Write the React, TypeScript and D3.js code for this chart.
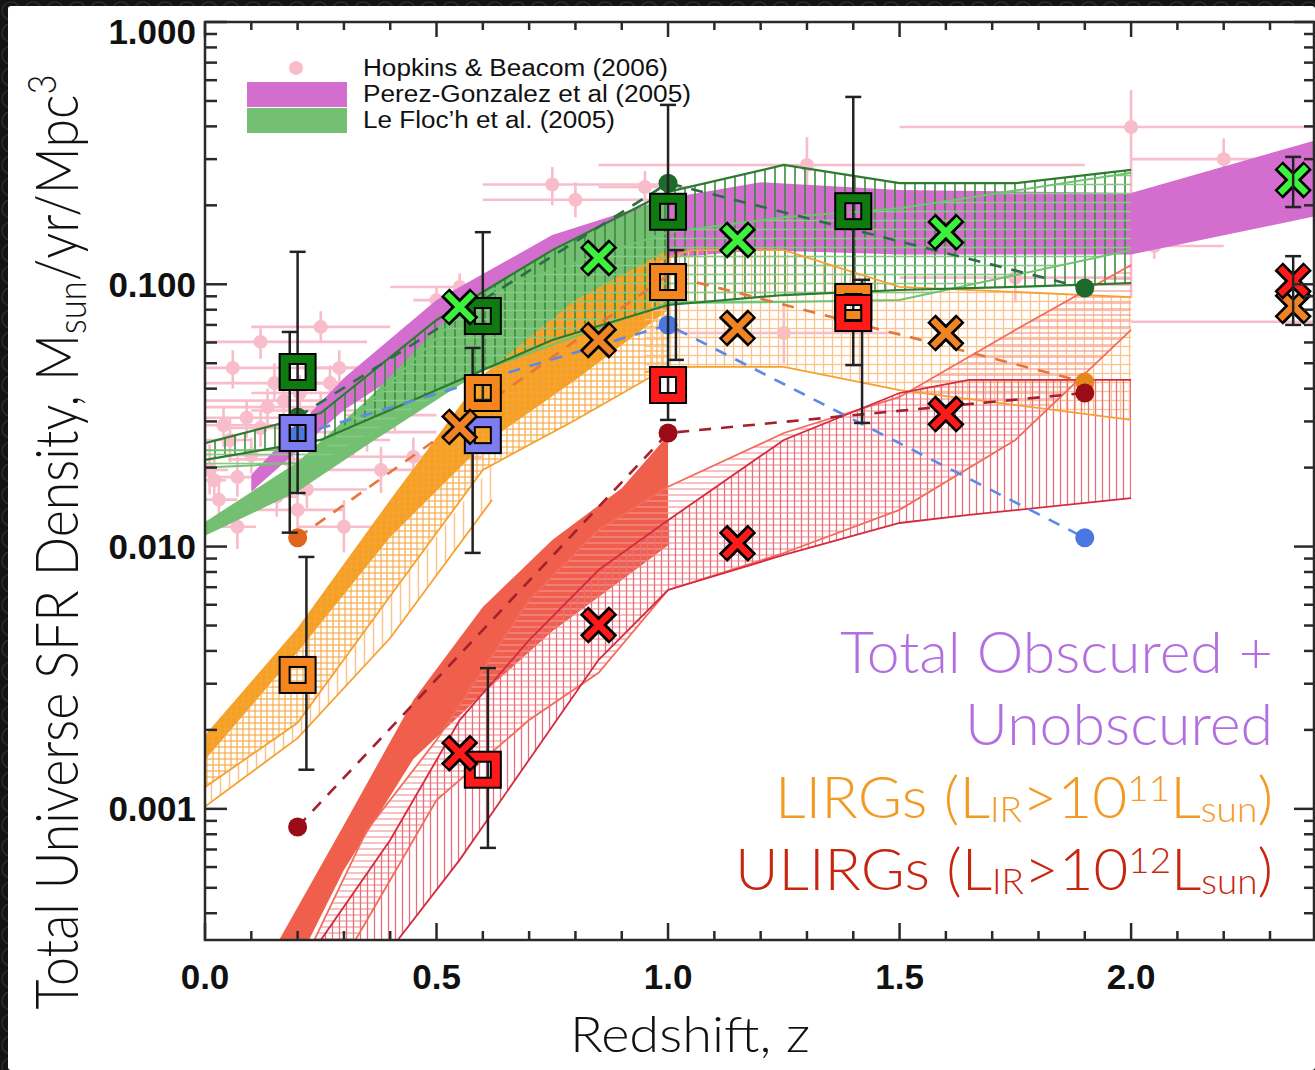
import * as d3 from "d3";

const W = 1315;
const H = 1070;
const M = { left: 205, right: 1314, top: 22, bottom: 940 };

// Hopkins & Beacom (2006) compilation
const hbZ = [0.01, 0.02, 0.03, 0.07, 0.07, 0.12, 0.135, 0.15, 0.155, 0.2, 0.205, 0.27, 0.29, 0.3, 0.35, 0.38, 0.32, 0.054, 0.1, 0.17, 0.41, 0.55, 0.5, 0.8, 0.95, 1.3, 1.25, 1.75, 2.0, 2.2, 2.05, 2.45, 0.12, 0.25, 0.06, 0.09, 0.25, 0.18, 0.45, 0.75, 0.04, 0.22];
const hbV = [0.0196, 0.0179, 0.0151, 0.0119, 0.0184, 0.0283, 0.034, 0.042, 0.0155, 0.0138, 0.0385, 0.042, 0.048, 0.0119, 0.0273, 0.0196, 0.0255, 0.0255, 0.0223, 0.036, 0.0317, 0.0977, 0.087, 0.21, 0.235, 0.285, 0.0652, 0.106, 0.398, 0.3, 0.14, 0.072, 0.0603, 0.0688, 0.048, 0.031, 0.033, 0.0215, 0.022, 0.24, 0.029, 0.0165];
const hbZlo = [0, 0, 0, 0.03, 0.02, 0.05, 0, 0, 0.1, 0.1, 0.1, 0.2, 0.2, 0.2, 0.2, 0.25, 0.25, 0, 0.05, 0, 0.3, 0.4, 0.45, 0.6, 0.85, 0.85, 1.0, 1.5, 1.5, 2.0, 1.93, 2.0, 0, 0.1, 0, 0, 0.1, 0.05, 0.3, 0.6, 0, 0.1];
const hbZhi = [0.05, 0.045, 0.07, 0.11, 0.12, 0.2, 0.3, 0.3, 0.2, 0.3, 0.3, 0.35, 0.4, 0.4, 0.5, 0.5, 0.4, 0.1, 0.15, 0.45, 0.5, 0.7, 0.6, 1.0, 1.05, 1.9, 1.5, 2.0, 2.6, 2.6, 2.2, 2.6, 0.35, 0.4, 0.38, 0.25, 0.45, 0.3, 0.6, 1.0, 0.2, 0.35];
const hbVlo = [0.0158, 0.0145, 0.0125, 0.0098, 0.0155, 0.024, 0.029, 0.036, 0.013, 0.0115, 0.033, 0.036, 0.041, 0.0095, 0.023, 0.016, 0.022, 0.021, 0.019, 0.031, 0.027, 0.085, 0.077, 0.18, 0.2, 0.21, 0.05, 0.085, 0.089, 0.27, 0.125, 0.06, 0.052, 0.06, 0.04, 0.026, 0.028, 0.018, 0.018, 0.2, 0.024, 0.014];
const hbVhi = [0.0245, 0.022, 0.018, 0.0145, 0.022, 0.033, 0.04, 0.05, 0.0185, 0.0165, 0.045, 0.049, 0.056, 0.015, 0.032, 0.024, 0.03, 0.031, 0.026, 0.042, 0.037, 0.11, 0.098, 0.245, 0.27, 0.364, 0.085, 0.135, 0.55, 0.36, 0.16, 0.085, 0.068, 0.079, 0.056, 0.036, 0.039, 0.025, 0.026, 0.28, 0.034, 0.019];

// Perez-Gonzalez et al (2005)
const pgZ = [0.1, 0.3, 0.5, 0.75, 1.0, 1.2, 1.5, 2.0, 2.4];
const pgHi = [0.0188, 0.0439, 0.0871, 0.154, 0.213, 0.245, 0.229, 0.223, 0.355];
const pgLo = [0.0162, 0.0332, 0.0562, 0.0951, 0.126, 0.135, 0.13, 0.13, 0.182];

// Le Floc'h et al (2005) filled
const lfZ = [0, 0.2, 0.35, 0.55, 0.75, 1.0];
const lfHi = [0.0124, 0.021, 0.0362, 0.0834, 0.135, 0.219];
const lfLo = [0.011, 0.0162, 0.0244, 0.0413, 0.067, 0.129];

// total, vertical hatch
const dgZ = [0, 0.25, 0.5, 0.75, 1.0, 1.25, 1.5, 1.75, 2.0];
const dgHi = [0.0248, 0.0323, 0.0731, 0.135, 0.225, 0.285, 0.243, 0.243, 0.273];
const dgLo = [0.0214, 0.0255, 0.0395, 0.0613, 0.0834, 0.091, 0.0951, 0.0977, 0.101];

// total, horizontal hatch
const lgZ = [0, 0.25, 0.6, 1.0, 1.25, 1.5, 2.0];
const lgHi = [0.0233, 0.0233, 0.0926, 0.158, 0.18, 0.195, 0.266];
const lgLo = [0.02, 0.021, 0.0471, 0.0849, 0.0856, 0.0871, 0.135];

// LIRGs
const ofZ = [0, 0.2, 0.4, 0.6, 0.8, 1.0];
const ofHi = [0.00191, 0.00489, 0.01506, 0.0451, 0.0871, 0.135];
const ofLo = [0.00154, 0.00396, 0.01088, 0.0244, 0.0432, 0.0798];
const ocLo = [0.00121, 0.00213, 0.00648, 0.0196, 0.0304, 0.0484];
const ovZ = [0, 0.2, 0.4, 0.62];
const ovHi = [0.00121, 0.00213, 0.00648, 0.0205];
const ovLo = [0.00102, 0.00186, 0.00448, 0.01506];
const orZ = [0.95, 1.05, 1.25, 1.5, 2.0];
const orHi = [0.1185, 0.135, 0.135, 0.0977, 0.0894];
const orLo = [0.0463, 0.0484, 0.0484, 0.0395, 0.0304];

// ULIRGs
const rfZ = [0.16, 0.3, 0.45, 0.6, 0.75, 0.9, 1.0];
const rfHi = [0.000316, 0.000868, 0.0026, 0.00588, 0.0106, 0.0167, 0.0266];
const rfLo = [0.000187, 0.000585, 0.00155, 0.00275, 0.00475, 0.00746, 0.0101];
const rhZ = [0.2, 0.35, 0.5, 0.7, 0.85, 1.0, 1.25, 1.5, 1.75, 2.0];
const rhHi = [0.000233, 0.000831, 0.00183, 0.00626, 0.0116, 0.0169, 0.0271, 0.0372, 0.067, 0.1185];
const rhLo = [0.000132, 0.000377, 0.00108, 0.00218, 0.0033, 0.00683, 0.00945, 0.0138, 0.0255, 0.067];
const rvZ = [0.25, 0.4, 0.55, 0.7, 0.85, 1.0, 1.25, 1.5, 1.65, 2.0];
const rvHi = [0.000316, 0.000761, 0.00218, 0.0044, 0.00814, 0.0126, 0.0255, 0.0385, 0.0432, 0.0432];
const rvLo = [0.00011, 0.00029, 0.000639, 0.00154, 0.0037, 0.00683, 0.00929, 0.0123, 0.0132, 0.0153];

// dashed models
const dashZ = [0.2, 1.0, 1.9];
const dashTotal = [0.0312, 0.243, 0.0968];
const dashBlue = [0.0266, 0.07, 0.0108];
const dashLirg = [0.0108, 0.1085, 0.0424];
const dashUlirg = [0.000853, 0.0271, 0.0385];

// square points
const sqZ = [0.2, 0.6, 1.0, 1.4];
const sqTotal = [0.0463, 0.0757, 0.189, 0.19];
const sqLirg = [0.00324, 0.0385, 0.102, 0.0856];
const sqBlue = [0.0271, 0.0266, null, null];
const sqUlirg = [null, 0.00141, 0.0413, 0.0777];

// error bars on squares
const ebZ = [0.2, 0.183, 0.219, 0.6, 0.578, 0.611, 1.0, 1.017, 1.4, 1.419];
const ebLo = [0.016, 0.0113, 0.00141, 0.0362, 0.00946, 0.00071, 0.0304, 0.0515, 0.0492, 0.0296];
const ebHi = [0.133, 0.0658, 0.00913, 0.158, 0.0572, 0.00344, 0.483, 0.135, 0.518, 0.104];

// cross points
const xZ = [0.55, 0.85, 1.15, 1.6, 2.35];
const xTotal = [0.0819, 0.126, 0.1475, 0.158, 0.25];
const xLirg = [0.0286, 0.0613, 0.0681, 0.0652, 0.0827];
const xUlirg = [0.00163, 0.00502, 0.0103, 0.032, 0.103];
const xebZ = [2.35, 2.35];
const xebLo = [0.197, 0.07];
const xebHi = [0.306, 0.128];

const yLabels = [0.001, 0.01, 0.1, 1];
const xLabels = [0, 0.5, 1.0, 1.5, 2.0];
const legendLabels = ["Hopkins & Beacom (2006)", "Perez-Gonzalez et al (2005)", "Le Floc’h et al. (2005)"];

const x = d3.scaleLinear().domain([0, 2.395]).range([M.left, M.right]);
const y = d3.scaleLog().domain([Math.pow(10, -3.5), 1]).range([M.bottom, M.top]);

function bandPath(zs: number[], hi: number[], lo: number[]) {
  return d3.area<number>().x((d) => x(d)).y0((_, i) => y(lo[i])).y1((_, i) => y(hi[i]))(zs) ?? "";
}
function linePath(zs: number[], vs: number[]) {
  return d3.line<number>().x((d) => x(d)).y((_, i) => y(vs[i]))(zs) ?? "";
}

function Hatch({ id, color, size, dir, w }: { id: string; color: string; size: number; dir: string; w: number }) {
  return (
    <pattern id={id} width={size} height={size} patternUnits="userSpaceOnUse">
      {dir !== "h" ? <line x1={size / 2} y1={0} x2={size / 2} y2={size} stroke={color} strokeWidth={w} /> : null}
      {dir !== "v" ? <line x1={0} y1={size / 2} x2={size} y2={size / 2} stroke={color} strokeWidth={w} /> : null}
    </pattern>
  );
}

function Square({ z, v, color }: { z: number; v: number | null; color: string }) {
  if (v == null) return null;
  const cx = x(z);
  const cy = y(v);
  return (
    <g>
      <rect x={cx - 13} y={cy - 13} width={26} height={26} fill="none" stroke="#000" strokeWidth={12} />
      <rect x={cx - 13} y={cy - 13} width={26} height={26} fill="none" stroke={color} strokeWidth={8} />
    </g>
  );
}

function Cross({ z, v, color }: { z: number; v: number; color: string }) {
  const cx = x(z);
  const cy = y(v);
  const a = 14.5;
  const b = 13;
  return (
    <g>
      <path d={`M${cx - a},${cy - a}L${cx + a},${cy + a}M${cx - a},${cy + a}L${cx + a},${cy - a}`} stroke="#000" strokeWidth={12} />
      <path d={`M${cx - b},${cy - b}L${cx + b},${cy + b}M${cx - b},${cy + b}L${cx + b},${cy - b}`} stroke={color} strokeWidth={6.5} />
    </g>
  );
}

function ErrBar({ z, lo, hi }: { z: number; lo: number; hi: number }) {
  const cx = x(z);
  return (
    <g stroke="#222" strokeWidth={2.5}>
      <line x1={cx} x2={cx} y1={y(lo)} y2={y(hi)} />
      <line x1={cx - 8} x2={cx + 8} y1={y(lo)} y2={y(lo)} />
      <line x1={cx - 8} x2={cx + 8} y1={y(hi)} y2={y(hi)} />
    </g>
  );
}

export default function App() {
  const yTicks = y.ticks();
  const isMajorY = (t: number) => Math.abs(Math.log10(t) - Math.round(Math.log10(t))) < 1e-6;
  const xTicks = d3.range(0, 24).map((i) => i / 10);
  const isMajorX = (t: number) => Math.abs(t * 2 - Math.round(t * 2)) < 1e-6;
  const sans = "'Liberation Sans', Arial, Helvetica, sans-serif";
  const light = "Lato, 'Liberation Sans', Arial, sans-serif";
  const legendWidths = [305, 328, 252];

  const dashes = [
    { v: dashTotal, color: "#2a6e44", dot: "#1d6a2c", show: [true, true, true] },
    { v: dashBlue, color: "#5b8be6", dot: "#4a78e0", show: [true, true, true] },
    { v: dashLirg, color: "#e8763a", dot: "#e0641c", show: [true, false, true] },
    { v: dashUlirg, color: "#a3202c", dot: "#9a0c16", show: [true, true, true] },
  ];

  return (
    <svg width={W} height={H} style={{ position: "absolute", left: 0, top: 0, display: "block" }}>
      <defs>
        <pattern id="frame" width={22} height={22} patternUnits="userSpaceOnUse">
          <rect width={22} height={22} fill="#141414" />
          <circle cx={11} cy={11} r={9} fill="none" stroke="#2c2c2c" strokeWidth={1.5} />
        </pattern>
        <Hatch id="h-dg" color="#3b8b3b" size={10} dir="v" w={1.6} />
        <Hatch id="h-lg" color="#86cc86" size={9} dir="h" w={1.6} />
        <Hatch id="h-oc" color="#f6a43c" size={6} dir="vh" w={1.1} />
        <Hatch id="h-ov" color="#fbc48c" size={9} dir="v" w={1.5} />
        <Hatch id="h-or" color="#fbc48c" size={9} dir="vh" w={1.3} />
        <Hatch id="h-rh" color="#f39595" size={6} dir="h" w={1.2} />
        <Hatch id="h-rv" color="#e6707e" size={7} dir="v" w={1.3} />
        <clipPath id="plot-clip">
          <rect x={M.left} y={M.top} width={M.right - M.left} height={M.bottom - M.top} />
        </clipPath>
      </defs>

      <rect width={W} height={H} fill="url(#frame)" />
      <rect x={8} y={6} width={W - 8} height={H - 6} rx={3} fill="#fff" />

      <g clipPath="url(#plot-clip)">
        {/* Hopkins & Beacom points */}
        <g stroke="#f8bccb" strokeWidth={2.6} fill="#f8bccb">
          {hbZ.map((z, i) => (
            <g key={`hb-${i}`}>
              <line x1={x(hbZlo[i])} x2={x(hbZhi[i])} y1={y(hbV[i])} y2={y(hbV[i])} />
              <line x1={x(z)} x2={x(z)} y1={y(hbVlo[i])} y2={y(hbVhi[i])} />
              <circle cx={x(z)} cy={y(hbV[i])} r={7} stroke="none" />
            </g>
          ))}
        </g>

        {/* filled bands */}
        <path d={bandPath(pgZ, pgHi, pgLo)} fill="#d36ecf" />
        <path d={bandPath(lfZ, lfHi, lfLo)} fill="#74bf72" />
        <path d={bandPath(ofZ, ofHi, ofLo)} fill="#f6a021" />
        <path d={bandPath(rfZ, rfHi, rfLo)} fill="#ef5f4b" />

        {/* hatched bands */}
        <path d={bandPath(ofZ, ofHi, ocLo)} fill="url(#h-oc)" />
        <path d={bandPath(ovZ, ovHi, ovLo)} fill="url(#h-ov)" />
        <path d={bandPath(orZ, orHi, orLo)} fill="url(#h-or)" />
        <path d={bandPath(rhZ, rhHi, rhLo)} fill="url(#h-rh)" />
        <path d={bandPath(rvZ, rvHi, rvLo)} fill="url(#h-rv)" />
        <path d={bandPath(dgZ, dgHi, dgLo)} fill="url(#h-dg)" />
        <path d={bandPath(lgZ, lgHi, lgLo)} fill="url(#h-lg)" />

        {/* band edges */}
        <g fill="none" strokeWidth={1.8}>
          <path d={linePath(ofZ, ocLo)} stroke="#f7a030" />
          <path d={linePath(ovZ, ovLo)} stroke="#f7a030" />
          <path d={linePath(orZ, orHi)} stroke="#f7a030" />
          <path d={linePath(orZ, orLo)} stroke="#f7a030" />
          <path d={linePath(rhZ, rhHi)} stroke="#f36b5b" />
          <path d={linePath(rhZ, rhLo)} stroke="#f36b5b" />
          <path d={linePath(rvZ, rvHi)} stroke="#d42b40" />
          <path d={linePath(rvZ, rvLo)} stroke="#d42b40" />
          <path d={linePath(lgZ, lgHi)} stroke="#6fc46f" strokeWidth={2} />
          <path d={linePath(lgZ, lgLo)} stroke="#6fc46f" strokeWidth={2} />
          <path d={linePath(dgZ, dgHi)} stroke="#2c7c30" strokeWidth={2.2} />
          <path d={linePath(dgZ, dgLo)} stroke="#2c7c30" strokeWidth={2.2} />
        </g>

        {/* dashed model lines */}
        {dashes.map((s, k) => (
          <g key={`dash-${k}`}>
            <path d={linePath(dashZ, s.v)} fill="none" stroke={s.color} strokeWidth={2.6} strokeDasharray="12 10" />
            {dashZ.map((z, i) => (s.show[i] ? <circle key={i} cx={x(z)} cy={y(s.v[i])} r={9.5} fill={k === 2 && i === 2 ? "#e8861e" : s.dot} /> : null))}
          </g>
        ))}

        {ebZ.map((z, i) => (
          <ErrBar key={`eb-${i}`} z={z} lo={ebLo[i]} hi={ebHi[i]} />
        ))}

        {sqZ.map((z, i) => <Square key={`sg-${i}`} z={z} v={sqTotal[i]} color="#0e7a10" />)}
        {sqZ.map((z, i) => <Square key={`so-${i}`} z={z} v={sqLirg[i]} color="#f5861f" />)}
        {sqZ.map((z, i) => <Square key={`sb-${i}`} z={z} v={sqBlue[i]} color="#7d7cf0" />)}
        {sqZ.map((z, i) => <Square key={`sr-${i}`} z={z} v={sqUlirg[i]} color="#ff1a1a" />)}

        {xZ.map((z, i) => <Cross key={`xg-${i}`} z={z} v={xTotal[i]} color="#3cf03c" />)}
        {xZ.map((z, i) => <Cross key={`xo-${i}`} z={z} v={xLirg[i]} color="#f08424" />)}
        {xZ.map((z, i) => <Cross key={`xr-${i}`} z={z} v={xUlirg[i]} color="#ff1a1a" />)}
        {xebZ.map((z, i) => (
          <ErrBar key={`xeb-${i}`} z={z} lo={xebLo[i]} hi={xebHi[i]} />
        ))}
      </g>

      {/* axes */}
      <g stroke="#2a2a2a" strokeWidth={2.5} fill="none">
        <rect x={M.left} y={M.top} width={M.right - M.left} height={M.bottom - M.top} />
        {yTicks.map((t) => {
          const major = isMajorY(t);
          return (
            <g key={`yt-${t}`}>
              <line x1={M.left} x2={M.left + (major ? 22 : 12)} y1={y(t)} y2={y(t)} />
              <line x1={M.right} x2={M.right - (major ? 20 : 10)} y1={y(t)} y2={y(t)} />
            </g>
          );
        })}
        {xTicks.map((t) => {
          const major = isMajorX(t);
          return (
            <g key={`xt-${t}`}>
              <line x1={x(t)} x2={x(t)} y1={M.bottom} y2={M.bottom - (major ? 17 : 9)} />
              <line x1={x(t)} x2={x(t)} y1={M.top} y2={M.top + (major ? 15 : 8)} />
            </g>
          );
        })}
      </g>

      <g fontFamily={sans} fontWeight="bold" fontSize={35} fill="#111">
        {yLabels.map((t) => (
          <text key={`yl-${t}`} x={196} y={Math.max(y(t), 31)} textAnchor="end" dominantBaseline="central">
            {d3.format(".3f")(t)}
          </text>
        ))}
        {xLabels.map((t) => (
          <text key={`xl-${t}`} x={x(t)} y={989} textAnchor="middle">
            {d3.format(".1f")(t)}
          </text>
        ))}
      </g>

      <text x={690} y={1052} textAnchor="middle" fontFamily={light} fontWeight={300} fontSize={50} fill="#111" textLength={240} lengthAdjust="spacingAndGlyphs">
        Redshift, z
      </text>
      <text transform="translate(78,542) rotate(-90)" textAnchor="middle" fontFamily={light} fontWeight={300} fontSize={60} fill="#111" textLength={935} lengthAdjust="spacingAndGlyphs">
        Total Universe SFR Density, M<tspan fontSize={40} dy={8}>sun</tspan>
        <tspan dy={-8}>/yr/Mpc</tspan>
        <tspan fontSize={40} dy={-22}>3</tspan>
      </text>

      {/* legend */}
      <circle cx={296} cy={68} r={7} fill="#f8bccb" />
      <rect x={247} y={82} width={100} height={25} fill="#d36ecf" />
      <rect x={247} y={108} width={100} height={25} fill="#74bf72" />
      <g fontFamily={sans} fontSize={23} fill="#111">
        {legendLabels.map((label, i) => (
          <text key={label} x={363} y={76 + i * 26} textLength={legendWidths[i]} lengthAdjust="spacingAndGlyphs">
            {label}
          </text>
        ))}
      </g>

      {/* annotations */}
      <g fontFamily={light} fontWeight={300} fontSize={57} textAnchor="end">
        <text x={1273} y={673} fill="#b36fe0" textLength={433} lengthAdjust="spacingAndGlyphs">Total Obscured +</text>
        <text x={1273} y={745} fill="#b36fe0" textLength={308} lengthAdjust="spacingAndGlyphs">Unobscured</text>
        <text x={1273} y={818} fill="#f39a23" textLength={498} lengthAdjust="spacingAndGlyphs">
          LIRGs (L<tspan fontSize={35} dy={4}>IR</tspan>
          <tspan dy={-4}>&gt;10</tspan>
          <tspan fontSize={35} dy={-17}>11</tspan>
          <tspan dy={17}>L</tspan>
          <tspan fontSize={35} dy={4}>sun</tspan>
          <tspan dy={-4}>)</tspan>
        </text>
        <text x={1273} y={890} fill="#c8250f" textLength={538} lengthAdjust="spacingAndGlyphs">
          ULIRGs (L<tspan fontSize={35} dy={4}>IR</tspan>
          <tspan dy={-4}>&gt;10</tspan>
          <tspan fontSize={35} dy={-17}>12</tspan>
          <tspan dy={17}>L</tspan>
          <tspan fontSize={35} dy={4}>sun</tspan>
          <tspan dy={-4}>)</tspan>
        </text>
      </g>
    </svg>
  );
}
